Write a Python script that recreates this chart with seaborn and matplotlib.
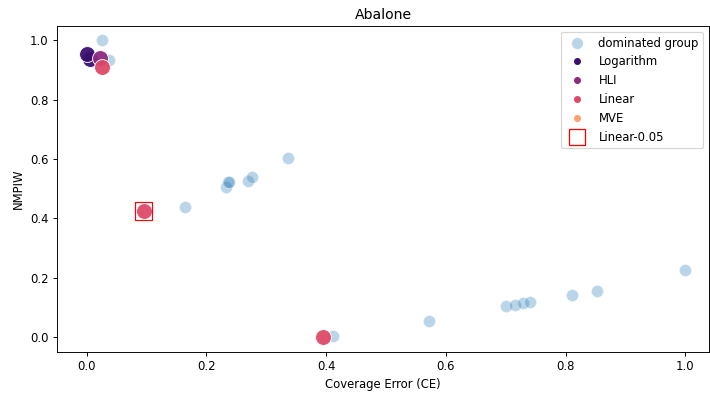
import matplotlib
matplotlib.use("Agg")
import matplotlib.pyplot as plt
import seaborn as sns
import pandas as pd
from matplotlib.lines import Line2D

dom_x = [0.025, 0.038, 0.164, 0.233, 0.236, 0.238, 0.270, 0.276, 0.337,
         0.411, 0.572, 0.701, 0.715, 0.728, 0.741, 0.810, 0.852, 1.000]
dom_y = [1.000, 0.933, 0.438, 0.505, 0.522, 0.522, 0.525, 0.539, 0.603,
         0.004, 0.054, 0.105, 0.108, 0.114, 0.117, 0.141, 0.154, 0.226]

log_x = [0.005, 0.000]
log_y = [0.937, 0.953]
hli_x = [0.022]
hli_y = [0.940]
lin_x = [0.025, 0.095, 0.394]
lin_y = [0.908, 0.424, 0.000]
mve_x = []
mve_y = []
lin05_x = [0.095]
lin05_y = [0.424]

methods = ["Logarithm", "HLI", "Linear", "MVE"]
colors = sns.color_palette("magma", 4)

fig = plt.figure(figsize=(710 / 84, 396 / 84), dpi=84)
ax = fig.add_axes([0.080, 0.111, 0.919, 0.823])

dom = pd.DataFrame({"x": dom_x, "y": dom_y})
sns.scatterplot(data=dom, x="x", y="y", ax=ax, color="tab:blue", alpha=0.3,
                s=106, edgecolor="white", linewidth=0.8, legend=False)

for name, xs, ys, c in zip(methods, [log_x, hli_x, lin_x, mve_x],
                           [log_y, hli_y, lin_y, mve_y], colors):
    if xs:
        d = pd.DataFrame({"x": xs, "y": ys})
        sns.scatterplot(data=d, x="x", y="y", ax=ax, color=c, s=185,
                        edgecolor="white", linewidth=0.8, alpha=0.95, legend=False)

d05 = pd.DataFrame({"x": lin05_x, "y": lin05_y})
sns.scatterplot(data=d05, x="x", y="y", ax=ax, marker="s", s=230,
                facecolor="none", edgecolor="red", linewidth=1.0, legend=False)

ax.set_xlim(-0.05, 1.04)
ax.set_ylim(-0.05, 1.047)
ax.set_title("Abalone")
ax.set_xlabel("Coverage Error (CE)")
ax.set_ylabel("NMPIW")

handles = [Line2D([], [], linestyle="none", marker="o", markersize=10,
                  markerfacecolor="tab:blue", markeredgecolor="white", alpha=0.3,
                  label="dominated group")]
for name, c in zip(methods, colors):
    handles.append(Line2D([], [], linestyle="none", marker="o", markersize=7,
                          markerfacecolor=c, markeredgecolor="white", label=name))
handles.append(Line2D([], [], linestyle="none", marker="s", markersize=13,
                      markerfacecolor="none", markeredgecolor="red",
                      markeredgewidth=1.1, label="Linear-0.05"))
ax.legend(handles=handles, loc="upper right")

fig.savefig("out.png", dpi=84)
